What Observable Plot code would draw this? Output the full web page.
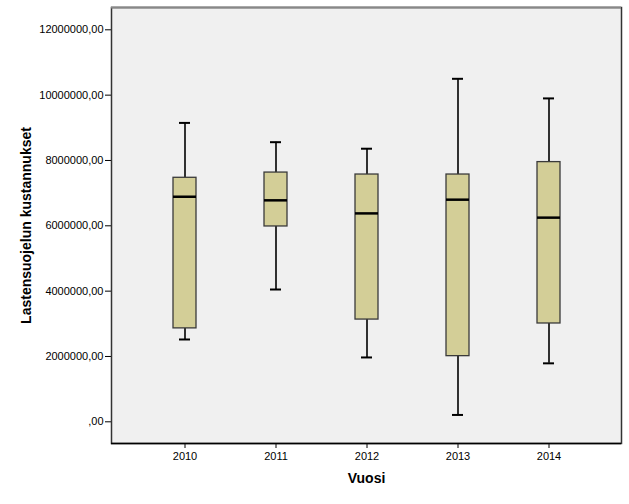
<!DOCTYPE html>
<html>
<head>
<meta charset="utf-8">
<script src="https://cdn.jsdelivr.net/npm/d3@7"></script>
<script src="https://cdn.jsdelivr.net/npm/@observablehq/plot@0.6"></script>
<style>
  html, body { margin: 0; padding: 0; background: #ffffff; }
  #chart { width: 629px; height: 504px; }
</style>
</head>
<body>
<div id="chart"></div>
<script>
const years = ["2010", "2011", "2012", "2013", "2014"];
const whiskerLow  = [2520000, 4050000, 1970000,  210000, 1790000];
const q1          = [2860000, 5980000, 3130000, 2010000, 3010000];
const median      = [6890000, 6780000, 6380000, 6800000, 6250000];
const q3          = [7470000, 7630000, 7570000, 7570000, 7950000];
const whiskerHigh = [9150000, 8560000, 8360000, 10500000, 9900000];
const yTicks = [0, 2000000, 4000000, 6000000, 8000000, 10000000, 12000000];
const yDomain = [-664000, 12683000];
const xTitle = "Vuosi";
const yTitle = "Lastensuojelun kustannukset";

const data = years.map((year, i) => ({
  year, low: whiskerLow[i], q1: q1[i], median: median[i], q3: q3[i], high: whiskerHigh[i]
}));

const fmt = d => d === 0 ? ",00" : d.toFixed(2).replace(".", ",");

const chart = Plot.plot({
  width: 629,
  height: 504,
  marginLeft: 111,
  marginRight: 8,
  marginTop: 7,
  marginBottom: 61,
  style: { fontFamily: "'Liberation Sans', Arial, sans-serif", fontSize: "11px", color: "#000", background: "#ffffff" },
  x: { type: "band", domain: years, paddingInner: 0.749, paddingOuter: 0.654, label: null },
  y: { domain: yDomain, label: null },
  marks: [
    Plot.frame({ fill: "#f0f0f0", stroke: "none" }),
    Plot.ruleX(data, { x: "year", y1: "low", y2: "q1", stroke: "#000", strokeWidth: 1.6 }),
    Plot.ruleX(data, { x: "year", y1: "q3", y2: "high", stroke: "#000", strokeWidth: 1.6 }),
    Plot.tickY(data, { x: "year", y: "low", inset: 6, stroke: "#000", strokeWidth: 2 }),
    Plot.tickY(data, { x: "year", y: "high", inset: 6, stroke: "#000", strokeWidth: 2 }),
    Plot.barY(data, { x: "year", y1: "q1", y2: "q3", fill: "#d3ce97", stroke: "#3a3a3a", strokeWidth: 1.3 }),
    Plot.tickY(data, { x: "year", y: "median", stroke: "#000", strokeWidth: 2.5 }),
    Plot.axisY({ ticks: yTicks, tickFormat: fmt, tickSize: 6, tickPadding: 2, fontSize: 11, label: null }),
    Plot.axisX({ tickSize: 5, tickPadding: 4, fontSize: 11, label: null }),
    Plot.frame({ stroke: "#333", strokeWidth: 1.5 }),
    Plot.ruleY([yDomain[1]], { stroke: "#888", strokeWidth: 2 }),
    Plot.ruleY([yDomain[0]], { stroke: "#000", strokeWidth: 1.5 }),
    Plot.text([xTitle], { frameAnchor: "bottom", textAnchor: "middle", dy: 39, fontSize: 14, fontWeight: "bold", fill: "#000" }),
    Plot.text([yTitle], { frameAnchor: "left", textAnchor: "middle", dx: -85, rotate: -90, fontSize: 14, fontWeight: "bold", fill: "#000" })
  ]
});
document.getElementById("chart").appendChild(chart);
</script>
</body>
</html>
